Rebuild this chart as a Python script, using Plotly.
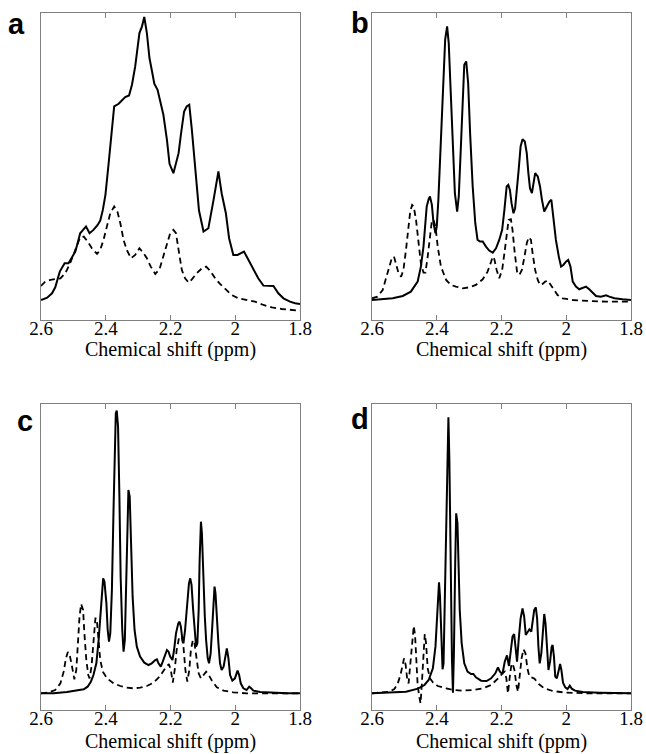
import plotly.graph_objects as go

# ---------------- data (chemical shift in ppm, intensity in arbitrary units) ----------------
panel_labels = ["a", "b", "c", "d"]
x_title = "Chemical shift (ppm)"
tick_vals = [2.6, 2.4, 2.2, 2.0, 1.8]
tick_text = ["2.6", "2.4", "2.2", "2", "1.8"]

# Panel a
ppm_a_solid = [2.600, 2.581, 2.566, 2.556, 2.542, 2.527, 2.515, 2.504, 2.494, 2.487, 2.479, 2.470, 2.461,
               2.450, 2.438, 2.425, 2.417, 2.409, 2.401, 2.391, 2.383, 2.374, 2.360, 2.350, 2.340, 2.328,
               2.319, 2.309, 2.302, 2.296, 2.288, 2.281, 2.273, 2.265, 2.258, 2.250, 2.240, 2.232, 2.222,
               2.211, 2.203, 2.191, 2.183, 2.175, 2.168, 2.158, 2.150, 2.142, 2.134, 2.124, 2.112, 2.098,
               2.083, 2.067, 2.052, 2.042, 2.029, 2.019, 2.006, 1.993, 1.973, 1.959, 1.944, 1.929, 1.913,
               1.898, 1.882, 1.867, 1.851, 1.831, 1.815, 1.800]
int_a_solid = [6.0, 6.7, 8.0, 9.8, 14.5, 17.0, 17.0, 19.0, 20.5, 23.0, 26.0, 27.0, 28.0,
               26.0, 27.0, 28.5, 29.8, 33.0, 37.5, 47.0, 56.0, 64.0, 64.8, 65.8, 66.8, 67.3,
               70.5, 76.0, 81.0, 86.0, 88.0, 90.8, 86.0, 78.5, 75.0, 70.8, 69.0, 65.8, 61.5,
               54.0, 46.8, 44.0, 47.3, 50.0, 55.5, 62.5, 64.0, 64.5, 57.0, 46.0, 32.8, 26.5,
               27.5, 36.0, 44.5, 38.0, 32.0, 24.5, 19.5, 19.5, 20.5, 18.0, 15.0, 12.5, 10.3,
               10.3, 10.2, 8.0, 6.5, 5.5, 5.0, 4.8]
ppm_a_dash = [2.600, 2.587, 2.571, 2.556, 2.540, 2.525, 2.510, 2.494, 2.479, 2.468, 2.456, 2.443, 2.427,
              2.417, 2.407, 2.396, 2.386, 2.374, 2.364, 2.355, 2.345, 2.335, 2.322, 2.309, 2.296, 2.283,
              2.273, 2.261, 2.247, 2.234, 2.222, 2.211, 2.201, 2.191, 2.183, 2.175, 2.165, 2.155, 2.144,
              2.134, 2.119, 2.103, 2.090, 2.078, 2.062, 2.047, 2.031, 2.011, 1.990, 1.965, 1.939, 1.913,
              1.887, 1.857, 1.831, 1.800]
int_a_dash = [10.2, 11.5, 12.0, 12.2, 12.5, 14.0, 17.0, 21.0, 24.8, 25.0, 23.5, 21.5, 19.8,
              21.0, 24.0, 28.2, 32.0, 34.0, 32.5, 29.0, 24.0, 21.0, 18.5, 19.5, 21.5, 20.0,
              18.5, 16.0, 13.8, 15.2, 19.0, 23.0, 26.0, 27.0, 26.0, 21.0, 15.0, 12.5, 11.2,
              12.2, 14.0, 15.5, 16.0, 14.8, 12.5, 10.8, 9.2, 7.5, 6.5, 6.0, 5.5, 4.5,
              3.8, 3.3, 3.0, 2.8]

# Panel b
ppm_b_solid = [2.600, 2.567, 2.536, 2.505, 2.480, 2.459, 2.449, 2.441, 2.436, 2.431, 2.425, 2.421, 2.415,
               2.410, 2.404, 2.400, 2.395, 2.390, 2.384, 2.378, 2.374, 2.368, 2.363, 2.358, 2.351, 2.344,
               2.337, 2.332, 2.325, 2.319, 2.315, 2.309, 2.303, 2.297, 2.289, 2.281, 2.274, 2.266, 2.258,
               2.248, 2.238, 2.227, 2.217, 2.207, 2.198, 2.191, 2.184, 2.179, 2.174, 2.169, 2.163, 2.158,
               2.153, 2.147, 2.141, 2.135, 2.128, 2.122, 2.117, 2.112, 2.106, 2.102, 2.096, 2.088, 2.081,
               2.075, 2.068, 2.060, 2.052, 2.046, 2.040, 2.032, 2.023, 2.016, 2.009, 2.001, 1.994, 1.987,
               1.980, 1.970, 1.960, 1.949, 1.939, 1.929, 1.918, 1.908, 1.893, 1.877, 1.867, 1.851, 1.826,
               1.800]
int_b_solid = [6.0, 6.2, 6.5, 7.2, 8.5, 11.5, 16.0, 22.0, 28.0, 34.0, 36.2, 37.0, 34.5,
               29.0, 26.0, 28.0, 36.0, 48.0, 64.0, 78.0, 84.0, 88.0, 83.0, 71.0, 56.0, 38.0,
               32.5, 37.0, 53.0, 70.0, 76.5, 77.5, 71.0, 56.0, 40.0, 29.0, 24.0, 23.5, 23.5,
               22.0, 20.8, 20.2, 21.5, 24.0, 27.0, 33.0, 40.0, 40.5, 39.0, 35.0, 32.0, 33.5,
               38.0, 45.0, 52.0, 54.2, 53.5, 50.0, 44.0, 39.5, 38.0, 41.0, 44.0, 43.0, 40.0,
               36.0, 32.5, 34.0, 35.5, 36.0, 30.0, 24.0, 19.0, 16.0, 16.5, 17.5, 18.0, 16.0,
               11.5, 10.0, 9.2, 9.5, 10.0, 9.2, 8.0, 7.2, 7.0, 7.4, 7.0, 6.5, 6.2,
               6.0]
ppm_b_dash = [2.600, 2.583, 2.567, 2.552, 2.539, 2.532, 2.526, 2.518, 2.510, 2.503, 2.495, 2.487, 2.482,
              2.476, 2.471, 2.464, 2.456, 2.449, 2.441, 2.435, 2.428, 2.421, 2.415, 2.410, 2.404, 2.397,
              2.387, 2.371, 2.356, 2.341, 2.320, 2.299, 2.279, 2.258, 2.243, 2.232, 2.227, 2.222, 2.215,
              2.207, 2.198, 2.191, 2.184, 2.178, 2.171, 2.166, 2.159, 2.152, 2.145, 2.137, 2.129, 2.122,
              2.116, 2.109, 2.104, 2.096, 2.088, 2.081, 2.073, 2.065, 2.057, 2.050, 2.040, 2.027, 2.011,
              1.980, 1.929, 1.877, 1.800]
int_b_dash = [6.5, 7.0, 9.0, 14.0, 18.5, 19.0, 17.0, 14.0, 13.0, 15.0, 21.0, 28.0, 32.5,
              34.5, 34.0, 30.0, 24.0, 17.0, 14.2, 14.2, 19.0, 26.0, 29.8, 30.0, 28.0, 22.0,
              16.0, 12.0, 10.5, 10.0, 9.5, 9.8, 10.5, 12.2, 14.5, 17.5, 19.0, 18.2, 15.0,
              12.5, 15.0, 20.0, 26.0, 30.0, 30.2, 27.0, 20.0, 14.5, 13.5, 15.0, 19.0, 23.0,
              24.8, 24.0, 20.0, 15.0, 12.0, 10.5, 10.8, 11.5, 11.8, 10.8, 9.0, 7.5, 6.5,
              6.0, 5.7, 5.5, 5.5]

# Panel c
ppm_c_solid = [2.600, 2.561, 2.520, 2.489, 2.468, 2.456, 2.446, 2.438, 2.429, 2.422, 2.417, 2.412, 2.408,
               2.404, 2.398, 2.394, 2.390, 2.386, 2.381, 2.376, 2.372, 2.369, 2.366, 2.362, 2.358, 2.354,
               2.349, 2.345, 2.341, 2.337, 2.333, 2.330, 2.326, 2.322, 2.317, 2.311, 2.304, 2.294, 2.281,
               2.268, 2.258, 2.247, 2.242, 2.237, 2.230, 2.224, 2.216, 2.211, 2.206, 2.201, 2.194, 2.189,
               2.183, 2.176, 2.172, 2.168, 2.163, 2.160, 2.155, 2.149, 2.143, 2.139, 2.135, 2.130, 2.125,
               2.121, 2.117, 2.113, 2.110, 2.106, 2.103, 2.099, 2.094, 2.090, 2.085, 2.081, 2.076, 2.071,
               2.067, 2.064, 2.061, 2.057, 2.052, 2.047, 2.042, 2.036, 2.031, 2.026, 2.021, 2.016, 2.009,
               2.001, 1.993, 1.988, 1.983, 1.975, 1.965, 1.957, 1.951, 1.944, 1.923, 1.882, 1.841, 1.800]
int_c_solid = [5.0, 5.0, 5.4, 5.8, 6.2, 7.0, 8.5, 10.5, 14.0, 21.0, 28.0, 36.0, 39.5,
               38.5, 32.0, 24.0, 20.5, 23.0, 36.0, 60.0, 80.0, 89.0, 89.8, 85.0, 65.0, 40.0,
               24.0, 17.5, 21.0, 40.0, 60.0, 66.0, 64.0, 50.0, 34.0, 24.0, 19.0, 16.0, 14.2,
               13.5, 14.0, 15.0, 15.2, 14.0, 13.0, 14.5, 17.0, 18.0, 17.5, 16.0, 15.0, 18.0,
               23.0, 26.0, 26.5, 25.0, 21.0, 20.0, 24.0, 32.0, 38.0, 39.5, 37.5, 30.0, 22.0,
               19.0, 20.0, 30.0, 45.0, 56.5, 53.0, 40.0, 28.0, 21.0, 15.5, 14.0, 17.0, 25.0,
               33.5, 37.0, 35.0, 27.0, 20.0, 14.0, 12.0, 13.0, 16.0, 18.5, 15.5, 10.5, 8.8,
               9.5, 11.8, 10.5, 8.0, 6.5, 6.0, 7.0, 6.5, 5.8, 5.4, 5.1, 5.0, 5.0]
ppm_c_dash = [2.600, 2.576, 2.556, 2.540, 2.530, 2.523, 2.517, 2.512, 2.506, 2.501, 2.497, 2.491, 2.486,
              2.481, 2.476, 2.470, 2.466, 2.460, 2.454, 2.450, 2.444, 2.438, 2.432, 2.428, 2.423, 2.417,
              2.409, 2.396, 2.376, 2.355, 2.335, 2.314, 2.294, 2.273, 2.252, 2.234, 2.220, 2.211, 2.205,
              2.199, 2.193, 2.187, 2.181, 2.174, 2.165, 2.160, 2.154, 2.148, 2.142, 2.137, 2.131, 2.126,
              2.120, 2.113, 2.106, 2.098, 2.090, 2.083, 2.072, 2.057, 2.036, 2.006, 1.965, 1.903, 1.800]
int_c_dash = [5.0, 5.3, 6.0, 8.0, 11.5, 15.5, 17.4, 16.8, 14.0, 10.5, 9.2, 12.0, 20.0,
              28.0, 31.8, 30.0, 23.0, 15.0, 10.5, 9.5, 13.0, 21.0, 27.5, 27.5, 21.0, 15.0,
              11.5, 9.5, 8.0, 7.2, 6.7, 6.5, 6.7, 7.2, 8.2, 10.0, 12.0, 13.2, 13.8,
              12.0, 8.2, 12.0, 18.0, 21.5, 22.0, 19.0, 12.0, 8.5, 12.0, 18.0, 21.0, 20.0,
              15.0, 11.0, 9.5, 10.5, 11.5, 10.7, 8.8, 6.8, 5.8, 5.3, 5.0, 5.0, 5.0]

# Panel d
ppm_d_solid = [2.600, 2.546, 2.495, 2.458, 2.438, 2.425, 2.412, 2.404, 2.399, 2.395, 2.393, 2.390, 2.386,
               2.382, 2.379, 2.376, 2.371, 2.367, 2.364, 2.361, 2.357, 2.353, 2.350, 2.347, 2.343, 2.340,
               2.336, 2.333, 2.329, 2.323, 2.315, 2.305, 2.294, 2.287, 2.279, 2.263, 2.246, 2.232, 2.219,
               2.211, 2.205, 2.197, 2.190, 2.183, 2.177, 2.171, 2.166, 2.161, 2.156, 2.152, 2.147, 2.141,
               2.135, 2.130, 2.125, 2.120, 2.114, 2.108, 2.103, 2.099, 2.094, 2.090, 2.086, 2.082, 2.077,
               2.072, 2.068, 2.064, 2.059, 2.055, 2.050, 2.045, 2.042, 2.038, 2.034, 2.029, 2.023, 2.019,
               2.015, 2.010, 2.003, 1.996, 1.989, 1.983, 1.973, 1.949, 1.898, 1.800]
int_d_solid = [5.0, 5.2, 5.5, 6.4, 7.5, 9.0, 12.5, 19.0, 29.0, 36.5, 38.3, 34.0, 20.0,
               12.2, 14.0, 30.0, 60.0, 82.0, 87.8, 75.0, 40.0, 15.0, 5.2, 17.0, 44.0, 59.0,
               56.0, 44.0, 30.0, 20.0, 14.0, 11.5, 10.8, 10.8, 9.8, 8.8, 8.7, 9.5, 11.0,
               12.8, 11.5, 10.8, 14.5, 16.4, 13.2, 18.0, 22.0, 22.8, 18.0, 14.5, 21.0, 27.5,
               30.5, 28.0, 22.5, 23.5, 24.2, 23.5, 27.0, 30.0, 30.8, 27.5, 19.0, 14.0, 17.0,
               25.0, 28.8, 26.0, 16.0, 12.0, 14.5, 19.0, 19.5, 16.0, 10.0, 9.5, 12.0, 13.8,
               12.0, 8.2, 6.8, 6.3, 7.3, 6.4, 5.8, 5.4, 5.2, 5.0]
ppm_d_dash = [2.600, 2.572, 2.546, 2.531, 2.521, 2.512, 2.505, 2.501, 2.496, 2.491, 2.487, 2.482, 2.476,
              2.471, 2.467, 2.463, 2.459, 2.454, 2.450, 2.446, 2.441, 2.437, 2.433, 2.428, 2.421, 2.411,
              2.397, 2.387, 2.371, 2.351, 2.320, 2.289, 2.258, 2.232, 2.217, 2.205, 2.196, 2.190, 2.185,
              2.180, 2.175, 2.170, 2.166, 2.160, 2.154, 2.149, 2.144, 2.138, 2.132, 2.126, 2.120, 2.114,
              2.107, 2.098, 2.085, 2.068, 2.042, 2.001, 1.929, 1.800]
int_d_dash = [5.0, 5.2, 5.5, 6.3, 7.8, 10.5, 14.0, 15.5, 13.5, 9.0, 8.0, 13.0, 21.0,
              25.2, 22.5, 14.0, 7.5, 4.0, 2.0, 8.0, 18.0, 22.8, 20.0, 12.5, 9.5, 8.2,
              7.2, 7.0, 6.5, 6.0, 5.8, 6.0, 6.5, 7.5, 8.8, 10.0, 11.2, 11.5, 9.5,
              5.0, 9.5, 13.2, 14.0, 12.0, 7.5, 5.5, 10.0, 15.5, 18.2, 17.0, 12.5, 10.0,
              9.8, 9.4, 7.8, 6.5, 5.7, 5.2, 5.0, 5.0]

solid_x = [ppm_a_solid, ppm_b_solid, ppm_c_solid, ppm_d_solid]
solid_y = [int_a_solid, int_b_solid, int_c_solid, int_d_solid]
dash_x = [ppm_a_dash, ppm_b_dash, ppm_c_dash, ppm_d_dash]
dash_y = [int_a_dash, int_b_dash, int_c_dash, int_d_dash]

# ---------------- layout ----------------
W, H = 646, 754
x_domains = [[41 / W, 300 / W], [372 / W, 631 / W], [41 / W, 300 / W], [372 / W, 631 / W]]
y_domains = [[1 - 320 / H, 1 - 13 / H], [1 - 320 / H, 1 - 13 / H],
             [1 - 710 / H, 1 - 404 / H], [1 - 710 / H, 1 - 404 / H]]
y_ranges = [[0, 92], [0, 92], [0, 91.8], [0, 91.8]]
label_pos = [(16, 24), (360, 23), (25, 421), (360, 419)]
title_y = [349, 349, 741, 741]

serif = "Liberation Serif"
box_color = "#808080"

fig = go.Figure()
layout = dict(width=W, height=H, margin=dict(l=0, r=0, t=0, b=0, autoexpand=False),
              paper_bgcolor="white", plot_bgcolor="white", showlegend=False)
annotations = []
for i in range(4):
    n = "" if i == 0 else str(i + 1)
    xa, ya = "x" + n, "y" + n
    fig.add_trace(go.Scatter(x=dash_x[i], y=dash_y[i], mode="lines", xaxis=xa, yaxis=ya,
                             line=dict(color="black", width=1.8, dash="6px,4px")))
    fig.add_trace(go.Scatter(x=solid_x[i], y=solid_y[i], mode="lines", xaxis=xa, yaxis=ya,
                             line=dict(color="black", width=2)))
    layout["xaxis" + n] = dict(
        domain=x_domains[i], anchor=ya, range=[2.6, 1.8], autorange=False, automargin=False,
        tickmode="array", tickvals=tick_vals, ticktext=tick_text,
        ticks="inside", ticklen=5, tickcolor=box_color, tickwidth=1, ticklabelstandoff=-9,
        showline=True, linecolor=box_color, linewidth=1, mirror="ticks",
        showgrid=False, zeroline=False,
        tickfont=dict(family=serif, size=19, color="black"),
    )
    layout["yaxis" + n] = dict(
        domain=y_domains[i], anchor=xa, range=y_ranges[i], autorange=False, automargin=False,
        showticklabels=False, ticks="", showgrid=False, zeroline=False,
        showline=True, linecolor=box_color, linewidth=1, mirror=True,
    )
    lx, ly = label_pos[i]
    annotations.append(dict(text="<b>" + panel_labels[i] + "</b>", xref="paper", yref="paper",
                            x=lx / W, y=1 - ly / H, xanchor="center", yanchor="middle",
                            showarrow=False,
                            font=dict(family="Liberation Sans", size=29, color="black")))
    annotations.append(dict(text=x_title, xref="x" + n + " domain", yref="paper",
                            x=0.5, y=1 - title_y[i] / H, xanchor="center", yanchor="middle",
                            showarrow=False,
                            font=dict(family=serif, size=20, color="black")))
layout["annotations"] = annotations
fig.update_layout(**layout)
fig.write_html("out.html", config={"displayModeBar": False},
               post_script="document.body.style.margin='0';document.body.style.overflow='hidden';")
